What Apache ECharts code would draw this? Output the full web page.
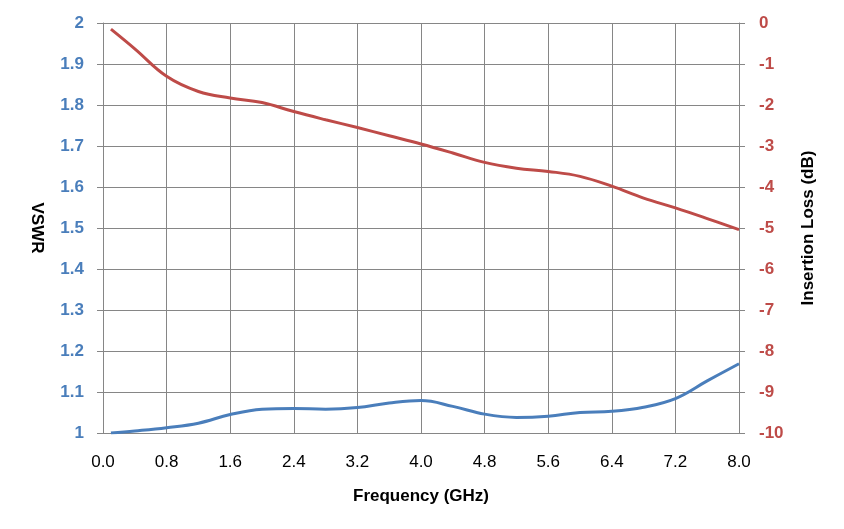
<!DOCTYPE html>
<html>
<head>
<meta charset="utf-8">
<script src="https://cdn.jsdelivr.net/npm/echarts@6/dist/echarts.min.js"></script>
<style>
  html, body { margin: 0; padding: 0; background: #fff; }
  #chart { width: 844px; height: 529px; }
</style>
</head>
<body>
<div id="chart"></div>
<script>
// frequency points (GHz)
var freq = [0.1, 0.4, 0.8, 1.2, 1.6, 2.0, 2.4, 2.8, 3.2, 3.6, 4.0, 4.4, 4.8, 5.2, 5.6, 6.0, 6.4, 6.8, 7.2, 7.6, 8.0];
// VSWR (left axis)
var vswr = [1.000, 1.005, 1.013, 1.024, 1.045, 1.058, 1.060, 1.058, 1.062, 1.073, 1.079, 1.065, 1.046, 1.038, 1.041, 1.050, 1.053, 1.063, 1.084, 1.127, 1.169];
// insertion loss dB (right axis)
var loss = [-0.15, -0.63, -1.30, -1.67, -1.83, -1.94, -2.16, -2.36, -2.55, -2.75, -2.95, -3.17, -3.40, -3.54, -3.62, -3.74, -3.98, -4.27, -4.51, -4.77, -5.04];

function pairs(xs, ys) {
  var out = [];
  for (var i = 0; i < xs.length; i++) {
    out.push([xs[i], ys[i]]);
  }
  return out;
}

var font = 'Liberation Sans';
var gridColor = '#868686';
var blue = '#4a7ebb';
var red = '#be4b48';

var myChart = echarts.init(document.getElementById('chart'));
myChart.setOption({
  animation: false,
  grid: {
    left: 103,
    right: 105,
    top: 23,
    bottom: 96
  },
  xAxis: {
    type: 'value',
    min: 0,
    max: 8,
    interval: 0.8,
    name: 'Frequency (GHz)',
    nameLocation: 'middle',
    nameGap: 55,
    nameTextStyle: { fontFamily: font, fontSize: 17, fontWeight: 'bold', color: '#000' },
    axisLine: { show: true, lineStyle: { color: gridColor, width: 1 } },
    axisTick: { show: true, inside: false, length: 6, lineStyle: { color: gridColor } },
    axisLabel: {
      margin: 21,
      fontFamily: font,
      fontSize: 17,
      color: '#000',
      formatter: function (v) { return v.toFixed(1); }
    },
    splitLine: { show: true, lineStyle: { color: gridColor, width: 1 } }
  },
  yAxis: [
    {
      type: 'value',
      min: 1,
      max: 2,
      interval: 0.1,
      position: 'left',
      name: 'VSWR',
      nameLocation: 'middle',
      nameGap: 58,
      nameRotate: -90,
      nameTextStyle: { fontFamily: font, fontSize: 17, fontWeight: 'bold', color: '#000' },
      axisLine: { show: true, lineStyle: { color: gridColor, width: 1 } },
      axisTick: { show: true, inside: false, length: 6, lineStyle: { color: gridColor } },
      axisLabel: {
        margin: 19,
        fontFamily: font,
        fontSize: 17,
        fontWeight: 'bold',
        color: blue,
        formatter: function (v) { return String(Math.round(v * 10) / 10); }
      },
      splitLine: { show: true, lineStyle: { color: gridColor, width: 1 } }
    },
    {
      type: 'value',
      min: -10,
      max: 0,
      interval: 1,
      position: 'right',
      name: 'Insertion Loss (dB)',
      nameLocation: 'middle',
      nameGap: 61,
      nameRotate: 90,
      nameTextStyle: { fontFamily: font, fontSize: 17, fontWeight: 'bold', color: '#000' },
      axisLine: { show: true, lineStyle: { color: gridColor, width: 1 } },
      axisTick: { show: true, inside: false, length: 6, lineStyle: { color: gridColor } },
      axisLabel: {
        margin: 20,
        fontFamily: font,
        fontSize: 17,
        fontWeight: 'bold',
        color: red
      },
      splitLine: { show: false }
    }
  ],
  series: [
    {
      name: 'VSWR',
      type: 'line',
      yAxisIndex: 0,
      smooth: 0.4,
      symbol: 'none',
      lineStyle: { color: blue, width: 3 },
      data: pairs(freq, vswr)
    },
    {
      name: 'Insertion Loss',
      type: 'line',
      yAxisIndex: 1,
      smooth: 0.4,
      symbol: 'none',
      lineStyle: { color: red, width: 3 },
      data: pairs(freq, loss)
    }
  ]
});
</script>
</body>
</html>
